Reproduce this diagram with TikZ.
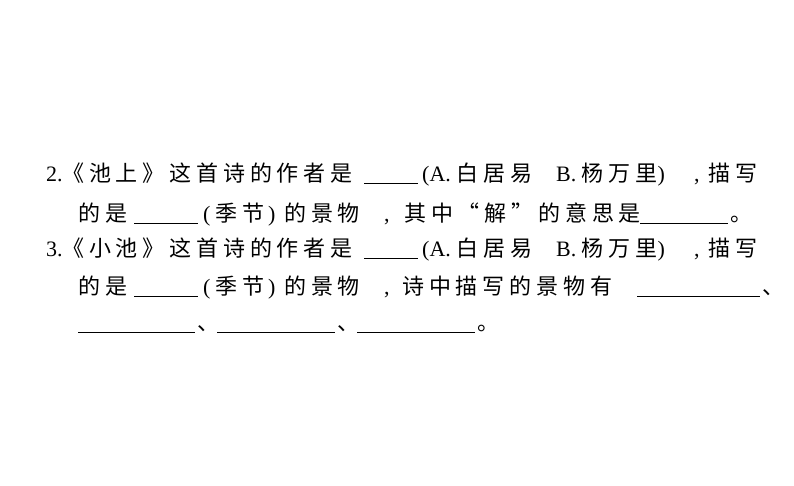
\documentclass[tikz,border=0pt]{standalone}
\usepackage{fontspec}
\setmainfont{Liberation Serif}
\newfontfamily\cjk[LetterSpace=22]{Noto Sans CJK SC}
\begin{document}
\begin{tikzpicture}[x=1pt,y=-1pt,
  txt/.style={anchor=base west,inner sep=0pt,font=\fontsize{22}{26}\selectfont},
  blank/.style={line width=0.7pt}]
\useasboundingbox (0,0) rectangle (794,485);
% line 1
\node[txt] (a1) at (46,181) {2.};
\node[txt] (a2) at (62,181) {\cjk 《池上》这首诗的作者是};
\coordinate (b1s) at (364,183); \coordinate (b1e) at (418,183);
\draw[blank] (b1s) -- (b1e);
\node[txt] (a3) at (422,181) {(A.\ {\cjk 白居易}};
\node[txt] (a4) at (556,181) {B.\ {\cjk 杨万里})};
\node[txt] (a4c) at (694,181) {,};
\node[txt] (a5) at (708,181) {\cjk 描写};
% line 2
\node[txt] (c1) at (78,221) {\cjk 的是};
\coordinate (b2s) at (134,223); \coordinate (b2e) at (198,223);
\draw[blank] (b2s) -- (b2e);
\node[txt] (c2) at (203,221) {(};
\node[txt] (c2a) at (215,221) {\cjk 季节};
\node[txt] (c2p) at (268,221) {)};
\node[txt] (c2d) at (284,221) {\cjk 的景物};
\node[txt] (c2c) at (384,221) {,};
\node[txt] (c2b) at (404,221) {\cjk 其中“解”的意思是};
\coordinate (b3s) at (640,223); \coordinate (b3e) at (728,223);
\draw[blank] (b3s) -- (b3e);
\node[txt] (c3) at (730,221) {\cjk 。};
% line 3
\node[txt] (d1) at (46,256) {3.};
\node[txt] (d2) at (62,256) {\cjk 《小池》这首诗的作者是};
\coordinate (b4s) at (364,258); \coordinate (b4e) at (418,258);
\draw[blank] (b4s) -- (b4e);
\node[txt] (d3) at (422,256) {(A.\ {\cjk 白居易}};
\node[txt] (d4) at (556,256) {B.\ {\cjk 杨万里})};
\node[txt] (d4c) at (694,256) {,};
\node[txt] (d5) at (708,256) {\cjk 描写};
% line 4
\node[txt] (e1) at (78,294) {\cjk 的是};
\coordinate (b5s) at (134,296); \coordinate (b5e) at (198,296);
\draw[blank] (b5s) -- (b5e);
\node[txt] (e2) at (203,294) {(};
\node[txt] (e2a) at (215,294) {\cjk 季节};
\node[txt] (e2p) at (268,294) {)};
\node[txt] (e2d) at (284,294) {\cjk 的景物};
\node[txt] (e2c) at (384,294) {,};
\node[txt] (e2b) at (402,294) {\cjk 诗中描写的景物有};
\coordinate (b6s) at (637,296); \coordinate (b6e) at (760,296);
\draw[blank] (b6s) -- (b6e);
\node[txt] (e3) at (762,294) {\cjk 、};
% line 5
\coordinate (b7s) at (78,332); \coordinate (b7e) at (195,332);
\draw[blank] (b7s) -- (b7e);
\node[txt] (f1) at (197,330) {\cjk 、};
\coordinate (b8s) at (217,332); \coordinate (b8e) at (335,332);
\draw[blank] (b8s) -- (b8e);
\node[txt] (f2) at (337,330) {\cjk 、};
\coordinate (b9s) at (357,332); \coordinate (b9e) at (475,332);
\draw[blank] (b9s) -- (b9e);
\node[txt] (f3) at (477,330) {\cjk 。};
\end{tikzpicture}
\end{document}
